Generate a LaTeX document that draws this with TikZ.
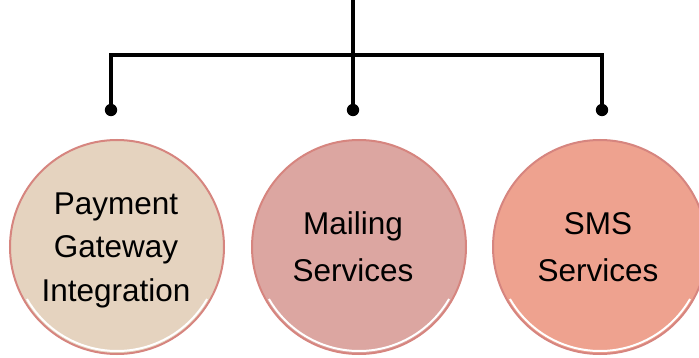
\documentclass[tikz,border=0pt]{standalone}
\usepackage{fontspec}
\setmainfont{Liberation Sans}
\usetikzlibrary{calc}
\definecolor{fillA}{HTML}{E5D3BF}
\definecolor{fillB}{HTML}{DCA6A1}
\definecolor{fillC}{HTML}{EEA28F}
\definecolor{rim}{HTML}{D6857F}
\begin{document}
\begin{tikzpicture}[x=1pt,y=-1pt,
  bubble/.style={circle,draw=rim,line width=2pt,minimum size=214pt,inner sep=0pt,align=center},
  wire/.style={line width=3.2pt,black}]
\useasboundingbox (0,0) rectangle (699,358);
% circles
\node[bubble,fill=fillA] (pay) at (117,247) {};
\node[bubble,fill=fillB] (mail) at (359,247) {};
\node[bubble,fill=fillC] (sms) at (600,247) {};
% white highlights
\foreach \n in {pay,mail,sms}{
  \draw[white,line width=2pt] ($(\n.center)+(210:104pt)$) arc[start angle=210,end angle=330,radius=104pt];
}
% texts
\node[font=\fontsize{31.5}{43.5}\selectfont,align=center] (payt) at (116,250) {Payment\\Gateway\\Integration};
\node[font=\fontsize{31.5}{47}\selectfont,align=center] (mailt) at (353,247) {Mailing\\Services};
\node[font=\fontsize{31.5}{47}\selectfont,align=center] (smst) at (598,247) {SMS\\Services};
% connectors
\coordinate (top) at (353,0);
\coordinate (j) at (353,55);
\coordinate (d1) at (111,110);
\coordinate (d2) at (353,110);
\coordinate (d3) at (602,110);
\draw[wire] (top) -- (d2);
\draw[wire] (d1) |- (j) -| (d3);
\fill (d1) circle[radius=6.2pt];
\fill (d2) circle[radius=6.2pt];
\fill (d3) circle[radius=6.2pt];
\end{tikzpicture}
\end{document}
